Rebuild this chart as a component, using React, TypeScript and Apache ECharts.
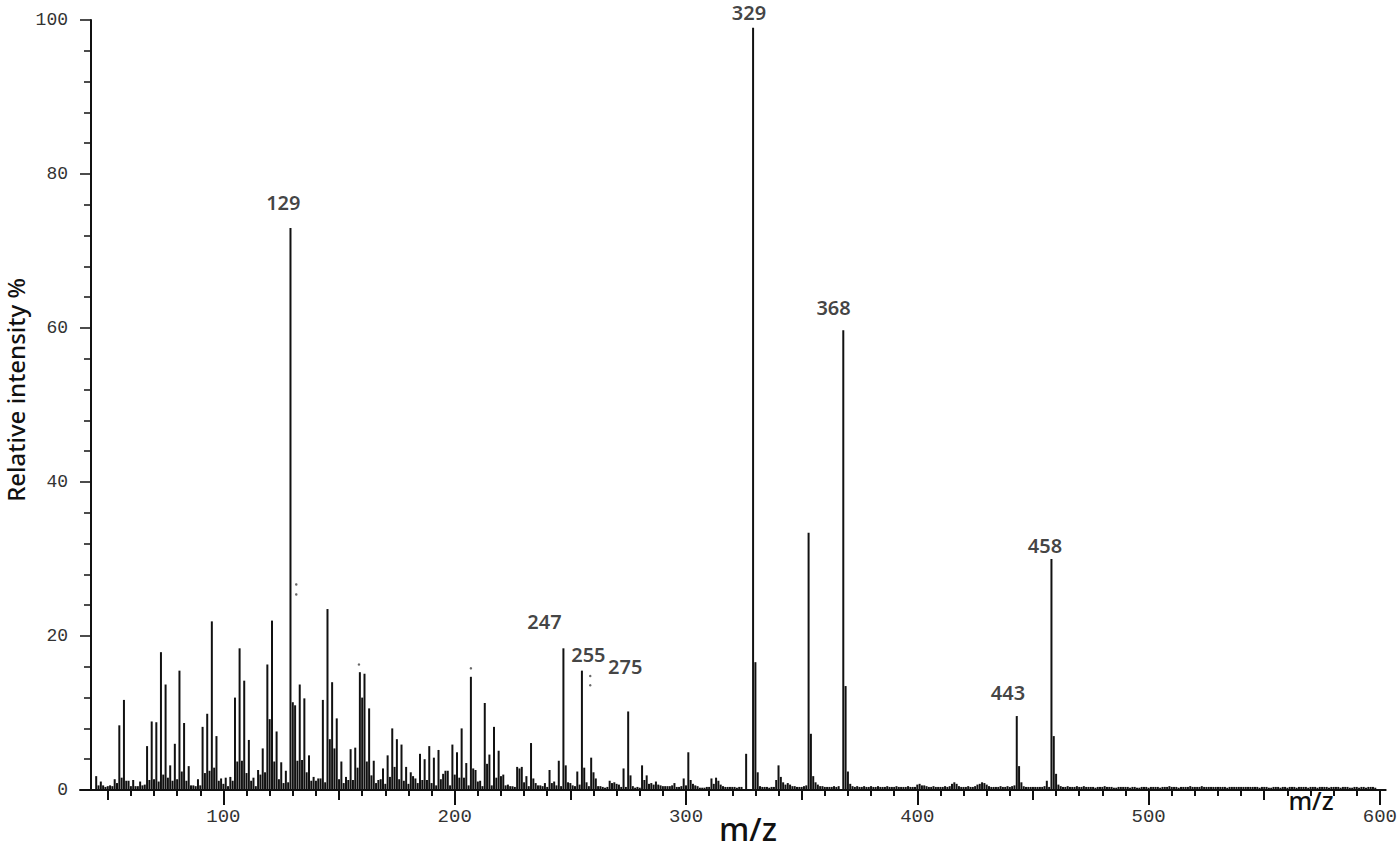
import React, { useEffect, useRef } from "react";
import * as echarts from "echarts";

// [m/z, relative intensity %]
const peaks45to99: number[][] = [
  [45, 1.8], [46, 0.6], [47, 1.1], [48, 0.6], [49, 0.4], [50, 0.5], [51, 0.6], [52, 0.5], [53, 1.4], [54, 0.9],
  [55, 8.4], [56, 1.6], [57, 11.7], [58, 1.2], [59, 1.2], [60, 0.5], [61, 1.3], [62, 0.5], [63, 0.5], [64, 1.1],
  [65, 0.6], [66, 0.7], [67, 5.7], [68, 1.3], [69, 8.9], [70, 1.4], [71, 8.8], [72, 1.1], [73, 17.9], [74, 2.0],
  [75, 13.7], [76, 1.6], [77, 3.2], [78, 1.2], [79, 6.0], [80, 1.4], [81, 15.5], [82, 2.4], [83, 8.7], [84, 1.2],
  [85, 3.1], [86, 0.6], [87, 0.6], [88, 0.5], [89, 1.4], [90, 0.6], [91, 8.2], [92, 2.2], [93, 9.9], [94, 2.5],
  [95, 21.9], [96, 2.9], [97, 7.0], [98, 1.2], [99, 1.5],
];

const peaks100to149: number[][] = [
  [100, 0.8], [101, 1.6], [102, 0.5], [103, 1.7], [104, 1.2], [105, 12.0], [106, 3.7], [107, 18.4], [108, 3.8], [109, 14.2],
  [110, 2.2], [111, 6.5], [112, 1.2], [113, 1.6], [114, 0.5], [115, 2.6], [116, 2.0], [117, 5.4], [118, 2.3], [119, 16.3],
  [120, 9.2], [121, 22.0], [122, 3.7], [123, 7.6], [124, 1.4], [125, 3.6], [126, 0.9], [127, 2.5], [128, 1.0], [129, 73.0],
  [130, 11.4], [131, 11.0], [132, 3.8], [133, 13.7], [134, 3.9], [135, 11.9], [136, 2.3], [137, 4.5], [138, 1.2], [139, 1.7],
  [140, 1.2], [141, 1.5], [142, 1.5], [143, 11.7], [144, 1.0], [145, 23.5], [146, 6.6], [147, 14.0], [148, 5.4], [149, 9.3],
];

const peaks150to199: number[][] = [
  [150, 1.4], [151, 3.7], [152, 0.9], [153, 1.7], [154, 1.3], [155, 5.3], [156, 1.3], [157, 5.5], [158, 2.9], [159, 15.3],
  [160, 12.0], [161, 15.1], [162, 3.7], [163, 10.6], [164, 1.9], [165, 3.8], [166, 0.9], [167, 1.3], [168, 1.4], [169, 2.8],
  [170, 0.8], [171, 4.5], [172, 1.7], [173, 8.0], [174, 3.0], [175, 6.6], [176, 1.4], [177, 5.9], [178, 1.2], [179, 3.0],
  [180, 0.8], [181, 2.3], [182, 1.8], [183, 1.5], [184, 0.9], [185, 4.7], [186, 1.3], [187, 4.0], [188, 1.3], [189, 5.7],
  [190, 0.9], [191, 4.2], [192, 0.6], [193, 5.2], [194, 1.4], [195, 2.1], [196, 2.5], [197, 2.5], [198, 0.6], [199, 5.9],
];

const peaks200to299: number[][] = [
  [200, 2.0], [201, 4.9], [202, 1.6], [203, 8.0], [204, 1.6], [205, 3.5], [206, 0.6], [207, 14.7], [208, 2.8], [209, 2.6],
  [210, 1.1], [211, 1.2], [212, 0.5], [213, 11.3], [214, 3.4], [215, 4.6], [216, 0.6], [217, 8.2], [218, 1.6], [219, 5.1],
  [220, 1.8], [221, 2.0], [222, 0.6], [223, 0.7], [224, 0.5], [225, 0.5], [226, 0.4], [227, 3.0], [228, 2.8], [229, 3.0],
  [230, 1.0], [231, 1.8], [232, 0.5], [233, 6.1], [234, 1.5], [235, 0.9], [236, 0.6], [237, 0.6], [238, 0.5], [239, 0.9],
  [240, 0.4], [241, 2.6], [242, 0.9], [243, 1.1], [244, 0.6], [245, 3.8], [246, 0.5], [247, 18.4], [248, 3.2], [249, 1.0],
  [250, 0.9], [251, 0.6], [252, 0.5], [253, 2.4], [254, 0.7], [255, 15.5], [256, 2.9], [257, 1.0], [258, 0.5], [259, 4.2],
  [260, 2.3], [261, 1.5], [262, 0.5], [263, 0.5], [264, 0.4], [265, 0.3], [266, 0.4], [267, 1.2], [268, 0.9], [269, 1.0],
  [270, 0.8], [271, 0.7], [272, 0.4], [273, 2.8], [274, 0.4], [275, 10.2], [276, 1.9], [277, 0.5], [278, 0.3], [279, 0.4],
  [280, 0.3], [281, 3.2], [282, 1.3], [283, 1.9], [284, 0.8], [285, 0.9], [286, 0.7], [287, 1.1], [288, 0.7], [289, 0.6],
  [290, 0.5], [291, 0.5], [292, 0.5], [293, 0.5], [294, 0.6], [295, 0.9], [296, 0.4], [297, 0.4], [298, 0.5], [299, 1.5],
];

const peaks300to371: number[][] = [
  [300, 0.6], [301, 4.9], [302, 1.3], [303, 0.8], [304, 0.6], [305, 0.5], [306, 0.3], [307, 0.3], [308, 0.3], [309, 0.4],
  [310, 0.4], [311, 1.5], [312, 0.8], [313, 1.6], [314, 1.2], [315, 0.7], [316, 0.5], [317, 0.4], [318, 0.4], [319, 0.4],
  [320, 0.4], [321, 0.4], [322, 0.3], [323, 0.4], [324, 0.4], [326, 4.7], [329, 99.0], [330, 16.6], [331, 2.3], [332, 0.5],
  [333, 0.4], [334, 0.4], [335, 0.4], [336, 0.3], [337, 0.4], [338, 0.4], [339, 1.3], [340, 3.2], [341, 1.7], [342, 1.0],
  [343, 0.7], [344, 0.9], [345, 0.7], [346, 0.5], [347, 0.5], [348, 0.4], [349, 0.4], [350, 0.4], [351, 0.5], [352, 0.6],
  [353, 33.4], [354, 7.3], [355, 1.8], [356, 1.0], [357, 0.7], [358, 0.5], [359, 0.5], [360, 0.4], [361, 0.4], [362, 0.4],
  [363, 0.4], [364, 0.5], [365, 0.4], [366, 0.5], [368, 59.7], [369, 13.5], [370, 2.4], [371, 0.8],
];

// intensities for every integer m/z from tailFirstMz (372) to 598
const tailFirstMz = 372;
const tailIntensities: number[] = [
  0.5, 0.4, 0.5, 0.4, 0.4, 0.5, 0.4, 0.4,
  0.5, 0.4, 0.4, 0.5, 0.4, 0.4, 0.4, 0.5, 0.4, 0.4,
  0.4, 0.5, 0.4, 0.4, 0.4, 0.4, 0.5, 0.4, 0.4, 0.4,
  0.7, 0.8, 0.6, 0.6, 0.5, 0.4, 0.4, 0.5, 0.4, 0.4,
  0.4, 0.4, 0.5, 0.4, 0.5, 0.8, 1.0, 0.8, 0.5, 0.4,
  0.4, 0.4, 0.5, 0.4, 0.4, 0.5, 0.7, 0.8, 1.0, 0.9,
  0.7, 0.5, 0.4, 0.4, 0.4, 0.4, 0.5, 0.4, 0.4, 0.5,
  0.4, 0.5, 0.6, 9.6, 3.1, 1.0, 0.5, 0.4, 0.4, 0.4,
  0.4, 0.4, 0.4, 0.4, 0.4, 0.5, 1.2, 0.4, 30.0, 7.0,
  2.1, 0.7, 0.5, 0.4, 0.4, 0.5, 0.4, 0.4, 0.4, 0.5,
  0.4, 0.4, 0.5, 0.4, 0.4, 0.4, 0.4, 0.3, 0.4, 0.4,
  0.4, 0.5, 0.4, 0.4, 0.4, 0.3, 0.3, 0.4, 0.4, 0.4,
  0.4, 0.4, 0.3, 0.4, 0.4, 0.3, 0.3, 0.4, 0.4, 0.4,
  0.3, 0.4, 0.4, 0.4, 0.4, 0.3, 0.4, 0.4, 0.4, 0.5,
  0.4, 0.4, 0.4, 0.3, 0.4, 0.4, 0.4, 0.4, 0.5, 0.4,
  0.4, 0.4, 0.4, 0.5, 0.4, 0.4, 0.4, 0.4, 0.4, 0.4,
  0.4, 0.4, 0.4, 0.4, 0.3, 0.4, 0.4, 0.4, 0.4, 0.4,
  0.4, 0.4, 0.4, 0.4, 0.4, 0.4, 0.4, 0.4, 0.3, 0.4,
  0.4, 0.4, 0.3, 0.3, 0.4, 0.4, 0.4, 0.3, 0.4, 0.4,
  0.3, 0.4, 0.4, 0.4, 0.3, 0.4, 0.4, 0.4, 0.4, 0.3,
  0.4, 0.4, 0.4, 0.3, 0.4, 0.4, 0.4, 0.4, 0.3, 0.4,
  0.4, 0.4, 0.4, 0.3, 0.4, 0.4, 0.4, 0.3, 0.3, 0.4,
  0.4, 0.3, 0.4, 0.4, 0.3, 0.4, 0.4, 0.4, 0.3,
];

// small scan specks seen above some bars
const specks: number[][] = [
  [131.5, 26.7], [131.5, 25.4], [158.6, 16.3], [207, 15.8], [258.6, 14.8], [258.6, 13.6],
];

const xMajorTicks = [100, 200, 300, 400, 500, 600];
const xMidTicks = [50, 150, 250, 350, 450, 550];
const xMinorTicks = [
  60, 70, 80, 90, 110, 120, 130, 140, 160, 170, 180, 190, 210, 220, 230, 240, 260, 270, 280, 290,
  310, 320, 330, 340, 360, 370, 380, 390, 410, 420, 430, 440, 460, 470, 480, 490, 510, 520, 530, 540,
  560, 570, 580, 590,
];

const peakLabelTexts = ["129", "247", "255", "275", "329", "368", "443", "458"];
const peakLabelAnchors: number[][] = [
  [125.9, 76.3], [238.8, 21.9], [257.8, 17.6], [273.7, 16.0],
  [327.2, 101.0], [363.8, 62.6], [439.2, 12.7], [455.2, 31.8],
];

const X_MIN = 38;
const X_MAX = 602.5;
const INK = "#111";
const TICK_FONT = '"Liberation Mono", "DejaVu Sans Mono", monospace';
const TITLE_FONT = '"Noto Sans", "Open Sans", sans-serif';

export default function App() {
  const ref = useRef<HTMLDivElement>(null);

  useEffect(() => {
    if (!ref.current) return;
    const chart = echarts.init(ref.current, undefined, { renderer: "svg" });

    const tail = tailIntensities.map((v, i) => [tailFirstMz + i, v]);
    const allPeaks = [
      ...peaks45to99,
      ...peaks100to149,
      ...peaks150to199,
      ...peaks200to299,
      ...peaks300to371,
      ...tail,
    ];

    const overlayAxis = (ticks: number[], len: number) => ({
      type: "value",
      min: X_MIN,
      max: X_MAX,
      position: "bottom",
      axisLine: { show: false },
      axisTick: { show: true, customValues: ticks, length: len, lineStyle: { color: INK, width: 2 } },
      axisLabel: { show: false },
      splitLine: { show: false },
    });

    const option: any = {
      animation: false,
      backgroundColor: "#ffffff",
      grid: { left: 80, right: 10, top: 20, bottom: 60, containLabel: false },
      xAxis: [
        {
          type: "value",
          min: X_MIN,
          max: X_MAX,
          position: "bottom",
          axisLine: { show: true, onZero: false, lineStyle: { color: INK, width: 2 } },
          axisTick: { show: true, customValues: xMajorTicks, length: 15, lineStyle: { color: INK, width: 2 } },
          axisLabel: {
            show: true,
            customValues: xMajorTicks,
            margin: 17,
            fontSize: 19,
            fontFamily: TICK_FONT,
            color: "#333",
          },
          splitLine: { show: false },
        },
        overlayAxis(xMidTicks, 10),
        overlayAxis(xMinorTicks, 6),
      ],
      yAxis: {
        type: "value",
        min: 0,
        max: 100,
        interval: 20,
        offset: -11,
        axisLine: { show: true, onZero: false, lineStyle: { color: INK, width: 2 } },
        axisTick: { show: true, length: 11, lineStyle: { color: INK, width: 1.5 } },
        minorTick: { show: true, splitNumber: 5, length: 7, lineStyle: { color: INK, width: 1.5 } },
        axisLabel: { margin: 23, fontSize: 18, fontFamily: TICK_FONT, color: "#333" },
        splitLine: { show: false },
        minorSplitLine: { show: false },
      },
      graphic: [
        {
          type: "text",
          x: 15,
          y: 390,
          rotation: Math.PI / 2,
          style: {
            text: "Relative intensity %",
            font: `500 24px ${TITLE_FONT}`,
            fill: INK,
            textAlign: "center",
            textVerticalAlign: "middle",
          },
        },
        {
          type: "text",
          x: 748,
          y: 828,
          style: {
            text: "m/z",
            font: `500 32px ${TITLE_FONT}`,
            fill: INK,
            textAlign: "center",
            textVerticalAlign: "middle",
          },
        },
        {
          type: "text",
          x: 1311,
          y: 800,
          style: {
            text: "m/z",
            font: `500 25px ${TITLE_FONT}`,
            fill: INK,
            textAlign: "center",
            textVerticalAlign: "middle",
          },
        },
      ],
      series: [
        {
          type: "bar",
          xAxisIndex: 0,
          yAxisIndex: 0,
          data: allPeaks,
          barWidth: 2,
          silent: true,
          itemStyle: { color: INK },
        },
        {
          type: "scatter",
          xAxisIndex: 0,
          yAxisIndex: 0,
          data: specks,
          symbolSize: 2.5,
          silent: true,
          itemStyle: { color: "#444" },
        },
        {
          type: "scatter",
          xAxisIndex: 0,
          yAxisIndex: 0,
          clip: false,
          silent: true,
          symbolSize: 0,
          data: peakLabelTexts.map((t, i) => ({ name: t, value: peakLabelAnchors[i] })),
          label: {
            show: true,
            position: "inside",
            formatter: "{b}",
            fontSize: 20,
            fontWeight: 600,
            fontFamily: TITLE_FONT,
            color: INK,
          },
        },
      ],
    };

    chart.setOption(option);
    return () => chart.dispose();
  }, []);

  return (
    <div
      ref={ref}
      style={{ position: "fixed", left: 0, top: 0, width: 1400, height: 850, background: "#fff" }}
    />
  );
}
